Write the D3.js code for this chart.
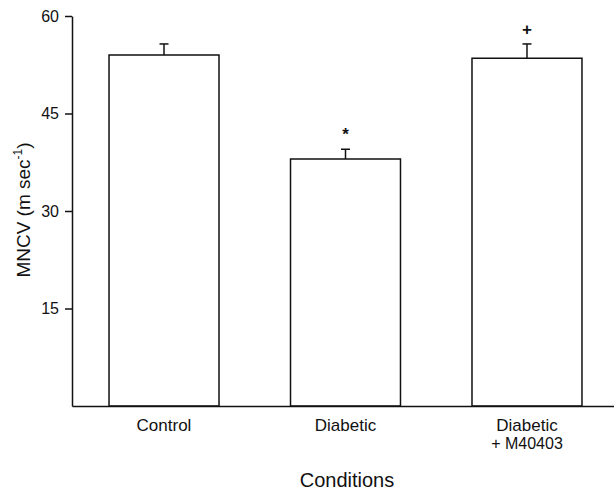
<!DOCTYPE html>
<html>
<head>
<meta charset="utf-8">
<script src="https://cdn.jsdelivr.net/npm/d3@7"></script>
<style>
  body { margin: 0; background: #fff; }
  svg { display: block; font-family: "Liberation Sans", Arial, sans-serif; }
</style>
</head>
<body>
<div id="chart"></div>
<script>
// Data
const categories = ['Control', 'Diabetic', 'Diabetic\n+ M40403'];
const means = [54.0, 38.0, 53.5];
const errors = [1.7, 1.5, 2.2];
const marks = ['', '*', '+'];
const yTicks = [15, 30, 45, 60];

const width = 614;
const height = 492;
const ink = '#111';

const svg = d3.select('#chart')
    .append('svg')
    .attr('width', width)
    .attr('height', height);

// Scales
const xScale = d3.scaleBand()
    .domain(categories)
    .range([72, 619])
    .paddingInner(0.394)
    .paddingOuter(0.204);

const yScale = d3.scaleLinear()
    .domain([0, 60])
    .range([406, 16]);

// Bars
svg.selectAll('.bar')
    .data(categories)
    .enter()
    .append('rect')
    .attr('class', 'bar')
    .attr('x', d => xScale(d))
    .attr('y', (d, i) => yScale(means[i]))
    .attr('width', xScale.bandwidth())
    .attr('height', (d, i) => yScale(0) - yScale(means[i]))
    .attr('fill', '#fff')
    .attr('stroke', ink)
    .attr('stroke-width', 1.5);

// Error bars (upper only)
const cx = d => xScale(d) + xScale.bandwidth() / 2;

svg.selectAll('.err')
    .data(categories)
    .enter()
    .append('line')
    .attr('x1', cx)
    .attr('x2', cx)
    .attr('y1', (d, i) => yScale(means[i]))
    .attr('y2', (d, i) => yScale(means[i] + errors[i]))
    .attr('stroke', ink)
    .attr('stroke-width', 1.5);

svg.selectAll('.cap')
    .data(categories)
    .enter()
    .append('line')
    .attr('x1', d => cx(d) - 4.5)
    .attr('x2', d => cx(d) + 4.5)
    .attr('y1', (d, i) => yScale(means[i] + errors[i]))
    .attr('y2', (d, i) => yScale(means[i] + errors[i]))
    .attr('stroke', ink)
    .attr('stroke-width', 1.5);

// Significance marks
svg.selectAll('.mark')
    .data(categories)
    .enter()
    .append('text')
    .attr('x', cx)
    .attr('y', (d, i) => yScale(means[i] + errors[i]) - 9)
    .attr('text-anchor', 'middle')
    .attr('font-size', 17)
    .attr('font-weight', 'bold')
    .attr('fill', ink)
    .text((d, i) => marks[i]);

// Axes
const yAxis = d3.axisLeft(yScale)
    .tickValues(yTicks)
    .tickSize(7)
    .tickSizeOuter(0)
    .tickPadding(6);

const yg = svg.append('g')
    .attr('transform', 'translate(72,0)')
    .call(yAxis);
yg.select('.domain').attr('stroke', ink).attr('stroke-width', 1.5);
yg.selectAll('.tick line').attr('stroke', ink).attr('stroke-width', 1.5);
yg.selectAll('.tick text').attr('font-size', 16).attr('fill', ink).attr('font-family', null);

const xAxis = d3.axisBottom(xScale).tickSize(0).tickSizeOuter(0).tickFormat('');
const xg = svg.append('g')
    .attr('transform', `translate(0,${yScale(0)})`)
    .call(xAxis);
xg.select('.domain').attr('stroke', ink).attr('stroke-width', 1.5);

// Category labels
svg.selectAll('.cat')
    .data(categories)
    .enter()
    .append('text')
    .attr('x', cx)
    .attr('y', 431)
    .attr('text-anchor', 'middle')
    .attr('fill', ink)
    .each(function(d) {
        const lines = d.split('\n');
        const t = d3.select(this);
        lines.forEach((ln, j) => {
            t.append('tspan')
                .attr('x', cx(d))
                .attr('dy', j === 0 ? 0 : 18)
                .attr('font-size', j === 0 ? 17 : 16)
                .text(ln);
        });
    });

// Axis titles
svg.append('text')
    .attr('x', 347)
    .attr('y', 487)
    .attr('text-anchor', 'middle')
    .attr('font-size', 20)
    .attr('fill', ink)
    .text('Conditions');

const yTitle = svg.append('text')
    .attr('transform', 'translate(30,210) rotate(-90)')
    .attr('text-anchor', 'middle')
    .attr('font-size', 19)
    .attr('fill', ink);
yTitle.append('tspan').text('MNCV (m sec');
yTitle.append('tspan').attr('font-size', 12).attr('dy', -8).text('-1');
yTitle.append('tspan').attr('dy', 8).text(')');
</script>
</body>
</html>
